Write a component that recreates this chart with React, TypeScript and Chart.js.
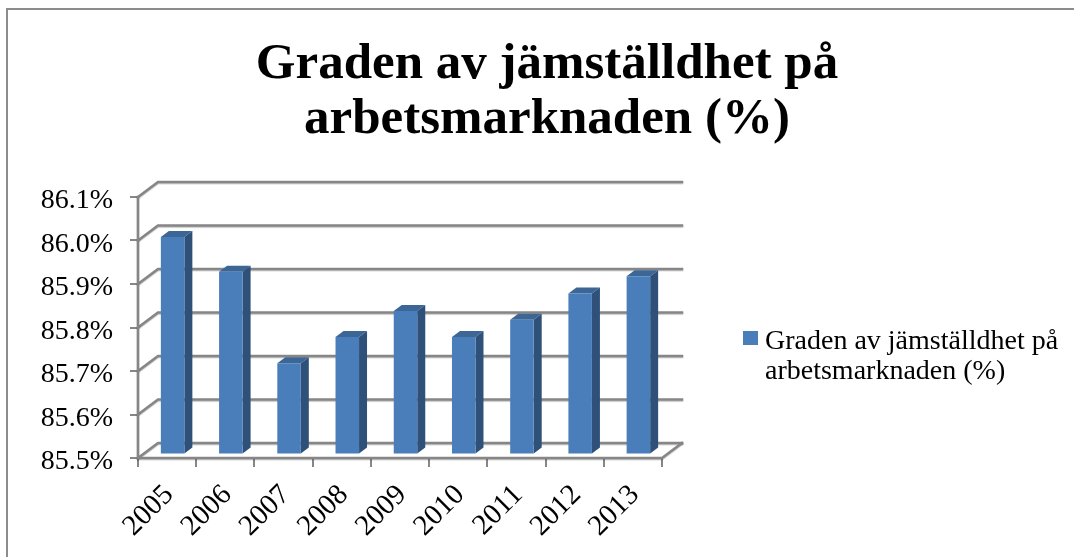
import React, { useEffect, useRef } from "react";
import { Chart, registerables } from "chart.js";

Chart.register(...registerables);

const years = ["2005", "2006", "2007", "2008", "2009", "2010", "2011", "2012", "2013"];
const equalityValues = [86.0, 85.92, 85.71, 85.77, 85.83, 85.77, 85.81, 85.87, 85.91];
const seriesLabel = "Graden av jämställdhet på arbetsmarknaden (%)";
const legendLines = ["Graden av jämställdhet på", "arbetsmarknaden (%)"];
const titleLines = ["Graden av jämställdhet på", "arbetsmarknaden (%)"];

const FONT = '"Liberation Serif", serif';
const GRID = "#868686";
const FRONT = "#4a7ebb";
const TOP = "#3c6696";
const SIDE = "#2f5078";

const WALL_DX = 20;
const WALL_DY = -15;
const BAR_SHIFT_X = 5.5;
const BAR_SHIFT_Y = -3.5;
const BAR_DX = 8;
const BAR_DY = -6;

const poly = (ctx: CanvasRenderingContext2D, pts: number[][], fill: string) => {
  ctx.beginPath();
  pts.forEach((p, i) => (i ? ctx.lineTo(p[0], p[1]) : ctx.moveTo(p[0], p[1])));
  ctx.closePath();
  ctx.fillStyle = fill;
  ctx.fill();
};

const depthPlugin = {
  id: "depth",
  afterLayout(chart: any) {
    if (chart.titleBlock) {
      chart.titleBlock.left = 20;
      chart.titleBlock.right = 1074;
    }
    if (chart.legend) {
      chart.legend.left = 750;
      chart.legend.right = 1074;
      chart.legend.top = 328;
      chart.legend.bottom = 557;
    }
  },
  beforeDraw(chart: any) {
    const ctx = chart.ctx;
    ctx.save();
    ctx.strokeStyle = "#8c8c8c";
    ctx.lineWidth = 2;
    ctx.beginPath();
    ctx.moveTo(7, chart.height);
    ctx.lineTo(7, 9);
    ctx.lineTo(chart.width, 9);
    ctx.stroke();
    ctx.restore();
  },
  beforeDatasetsDraw(chart: any) {
    const { ctx, chartArea: a, scales } = chart;
    ctx.save();
    ctx.strokeStyle = GRID;
    ctx.lineWidth = 2.5;
    ctx.lineCap = "square";
    ctx.shadowColor = "rgba(0,0,0,0.25)";
    ctx.shadowBlur = 1;
    ctx.shadowOffsetY = 1;
    scales.y.ticks.forEach((t: any) => {
      const y = scales.y.getPixelForValue(t.value);
      ctx.beginPath();
      ctx.moveTo(a.left, y);
      ctx.lineTo(a.left + WALL_DX, y + WALL_DY);
      ctx.lineTo(a.right + WALL_DX, y + WALL_DY);
      ctx.stroke();
    });
    ctx.beginPath();
    ctx.moveTo(a.left, a.top);
    ctx.lineTo(a.left, a.bottom);
    ctx.lineTo(a.right, a.bottom);
    ctx.lineTo(a.right + WALL_DX, a.bottom + WALL_DY);
    ctx.stroke();
    ctx.restore();
  },
  beforeDatasetDraw(chart: any, args: any) {
    const ctx = chart.ctx;
    const meta = chart.getDatasetMeta(args.index);
    meta.data.forEach((bar: any) => {
      const { x, y, base, width } = bar.getProps(["x", "y", "base", "width"], true);
      const l = x - width / 2 + BAR_SHIFT_X;
      const r = x + width / 2 + BAR_SHIFT_X;
      const t = y + BAR_SHIFT_Y;
      const b = base + BAR_SHIFT_Y;
      poly(ctx, [[l, t], [r, t], [r + BAR_DX, t + BAR_DY], [l + BAR_DX, t + BAR_DY]], TOP);
      poly(ctx, [[r, t], [r + BAR_DX, t + BAR_DY], [r + BAR_DX, b + BAR_DY], [r, b]], SIDE);
    });
    ctx.save();
    ctx.translate(BAR_SHIFT_X, BAR_SHIFT_Y);
  },
  afterDatasetDraw(chart: any) {
    chart.ctx.restore();
  },
  afterDraw(chart: any) {
    const ctx = chart.ctx;
    ctx.save();
    ctx.fillStyle = FRONT;
    ctx.fillRect(743, 331, 15, 14);
    ctx.restore();
  },
};

export default function App() {
  const ref = useRef<HTMLCanvasElement | null>(null);
  useEffect(() => {
    const canvas = ref.current;
    if (!canvas) return;
    const chart = new Chart(canvas, {
      type: "bar",
      data: {
        labels: years,
        datasets: [
          {
            label: seriesLabel,
            data: equalityValues,
            backgroundColor: FRONT,
            borderWidth: 0,
            barPercentage: 1,
            categoryPercentage: 0.404,
            base: 85.5,
            clip: false,
          },
        ],
      },
      plugins: [depthPlugin],
      options: {
        animation: false,
        responsive: false,
        devicePixelRatio: 1,
        layout: { padding: { left: 0, right: 412, top: 0, bottom: 0 } },
        plugins: {
          tooltip: { enabled: false },
          title: {
            display: true,
            text: titleLines,
            color: "#000",
            font: { family: FONT, size: 51, weight: "bold", lineHeight: 55 / 51 },
            padding: { top: 37, bottom: 50 },
          },
          legend: {
            display: true,
            position: "chartArea",
            align: "start",
            labels: {
              color: "#000",
              font: { family: FONT, size: 28, lineHeight: 30 / 28 },
              boxWidth: 1,
              boxHeight: 14,
              padding: 0,
              generateLabels: () => [
                { text: legendLines, fillStyle: "transparent", strokeStyle: "transparent", lineWidth: 0, hidden: false, datasetIndex: 0 },
              ],
            },
          },
        },
        scales: {
          x: {
            offset: true,
            border: { display: false },
            grid: { display: true, drawOnChartArea: false, drawTicks: true, tickLength: 9, color: GRID, lineWidth: 2 },
            ticks: {
              color: "#000",
              font: { family: FONT, size: 29 },
              minRotation: 45,
              maxRotation: 45,
              autoSkip: false,
              padding: 11,
              labelOffset: 2,
            },
            afterFit: (s: any) => {
              s.height = 99;
            },
          },
          y: {
            min: 85.5,
            max: 86.1,
            border: { display: false },
            grid: { display: true, drawOnChartArea: false, drawTicks: true, tickLength: 8, color: GRID, lineWidth: 2 },
            ticks: {
              stepSize: 0.1,
              color: "#000",
              font: { family: FONT, size: 28 },
              padding: 17,
              labelOffset: 4,
              callback: (v: any) => Number(v).toFixed(1) + "%",
            },
            afterFit: (s: any) => {
              s.width = 138;
            },
          },
        },
      },
    } as any);
    return () => chart.destroy();
  }, []);
  return (
    <canvas
      ref={ref}
      width={1074}
      height={557}
      style={{ position: "absolute", left: 0, top: 0, display: "block", background: "#fff" }}
    />
  );
}
